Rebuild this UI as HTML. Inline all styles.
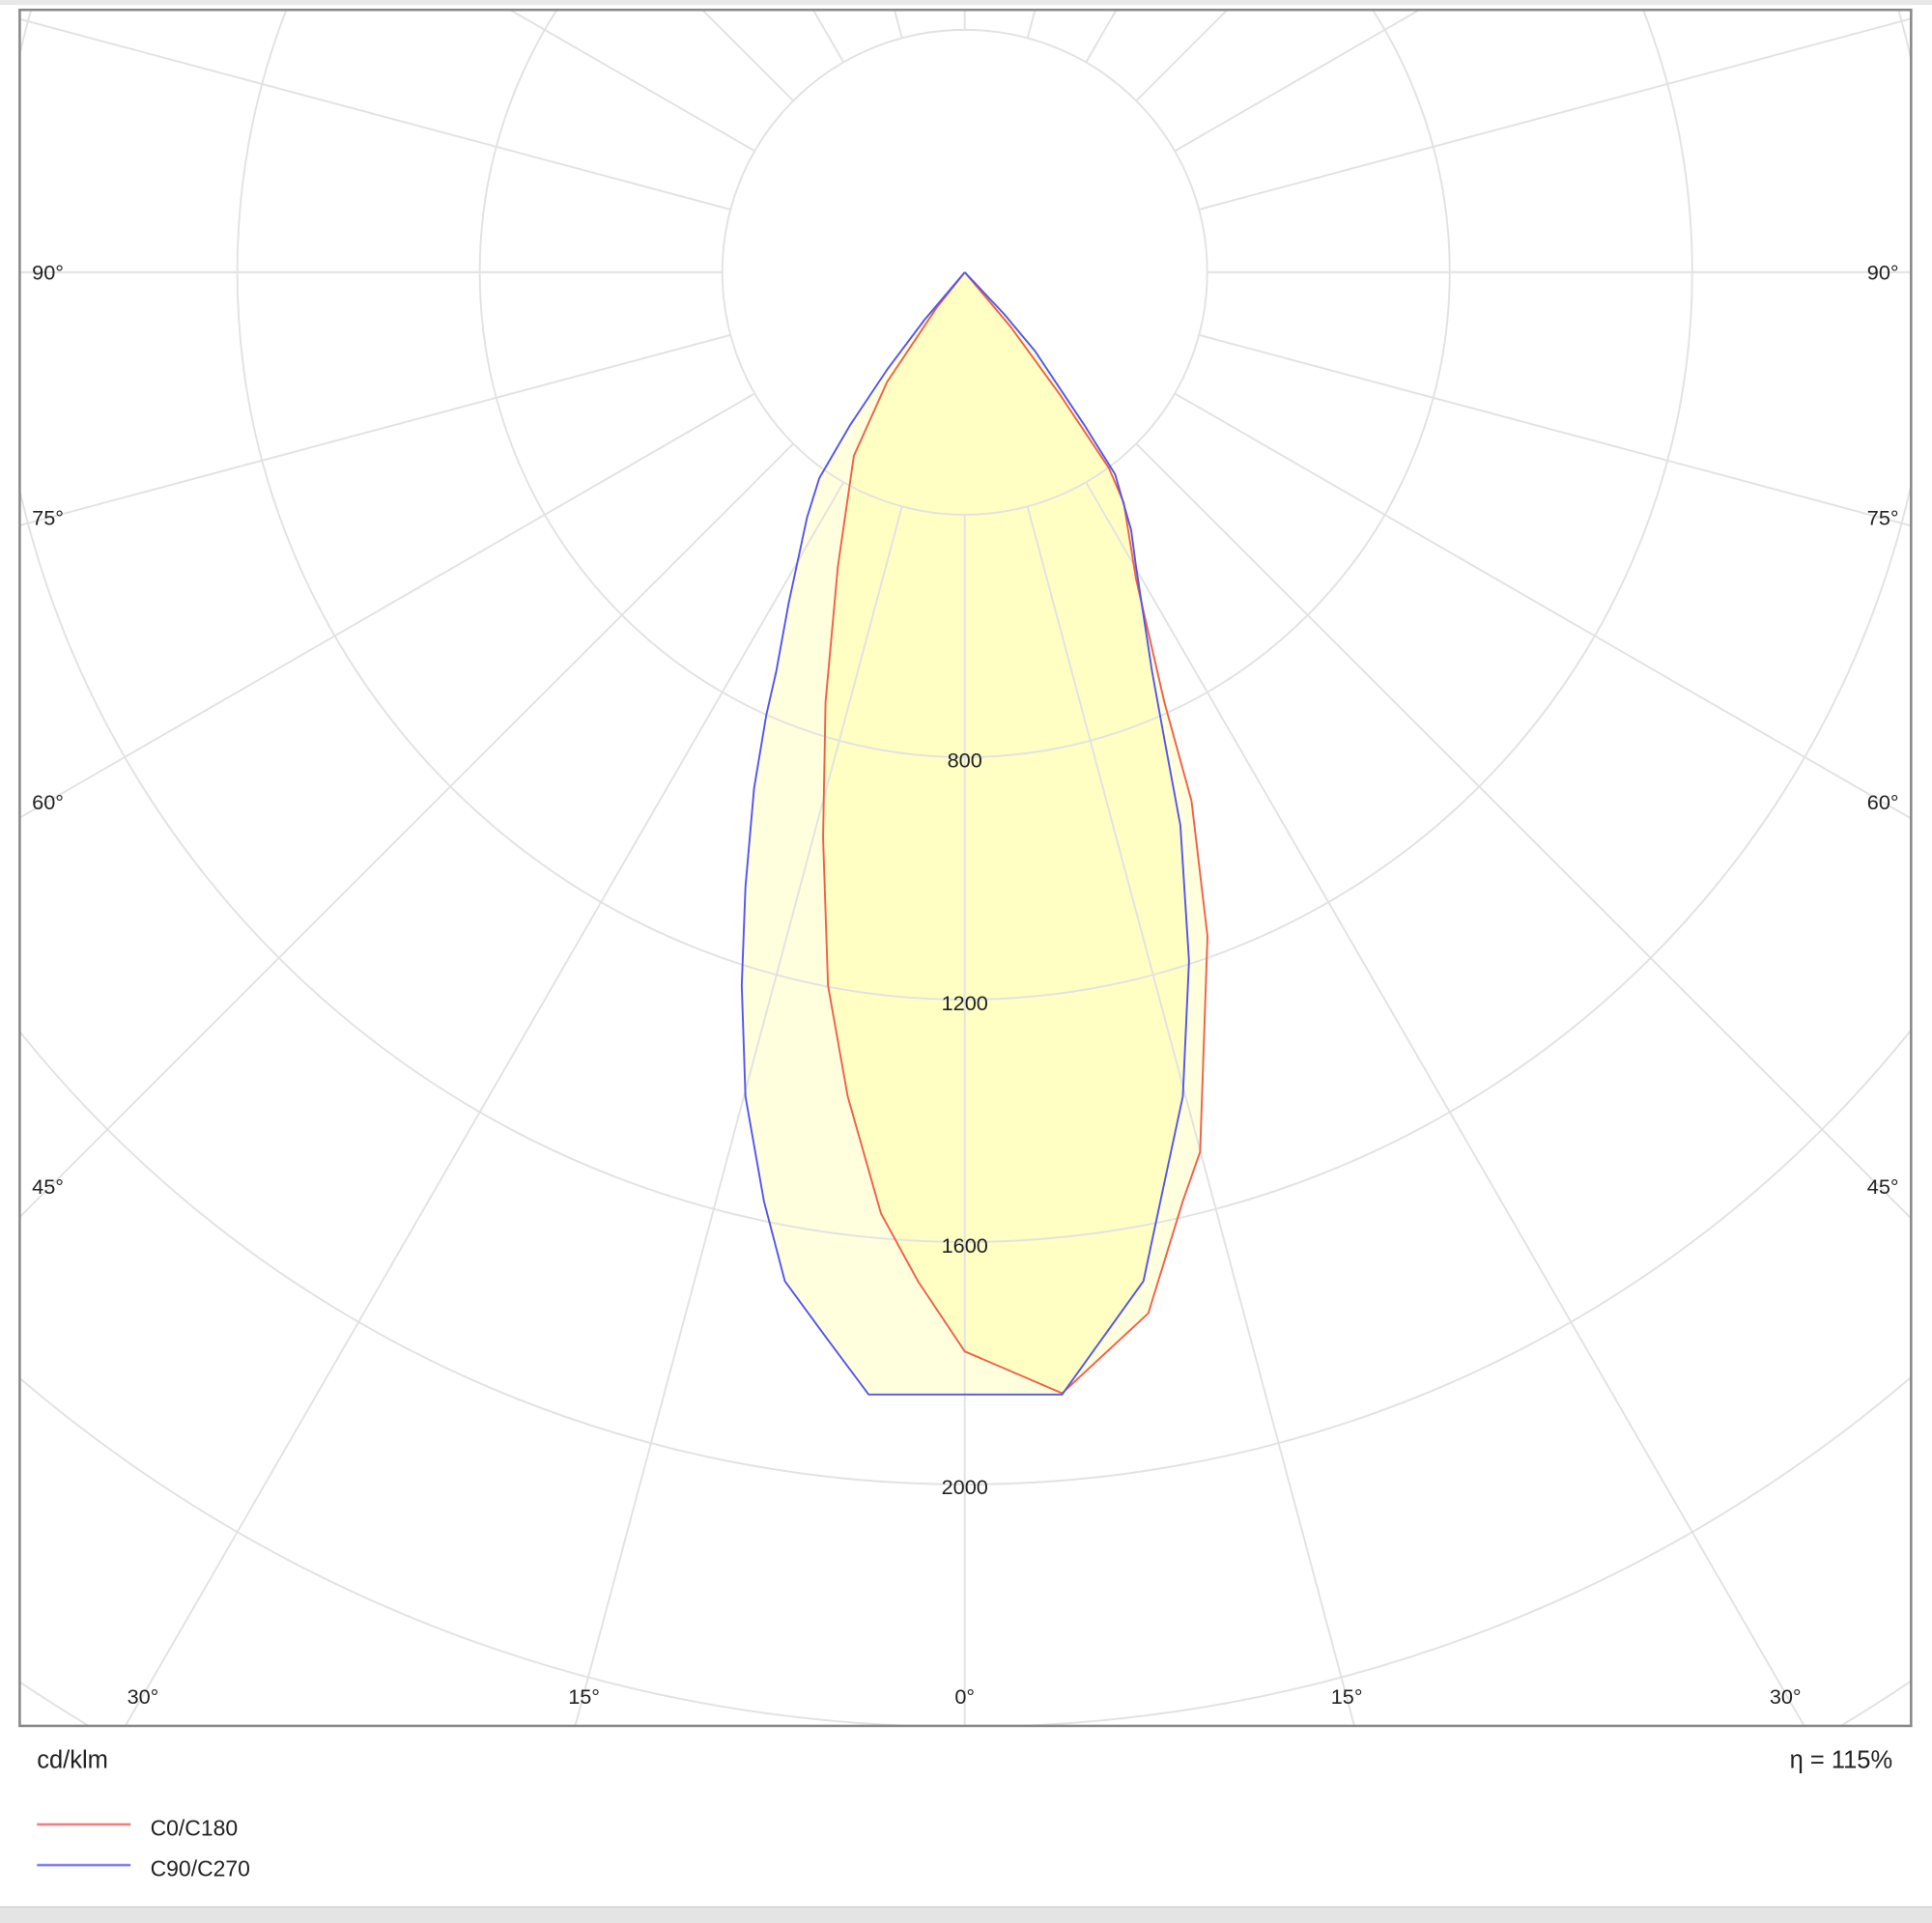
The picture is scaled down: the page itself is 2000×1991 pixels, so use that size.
<!DOCTYPE html>
<html><head><meta charset="utf-8"><style>
html,body{margin:0;padding:0;background:#fff;overflow:hidden;width:2000px;height:1991px;}
svg{display:block;}
text{font-family:"Liberation Sans","DejaVu Sans",sans-serif;fill:#222;}
</style></head><body>
<svg width="2000" height="1991" viewBox="0 0 1568 1561" preserveAspectRatio="none" xmlns="http://www.w3.org/2000/svg">
<rect x="0" y="0" width="1568" height="1561" fill="#fff"/>
<rect x="0" y="0" width="1568" height="4" fill="#e8e8e8"/>
<rect x="0" y="1548" width="1568" height="13" fill="#e4e4e4"/>
<line x1="0" y1="1548" x2="1568" y2="1548" stroke="#ccc"/>
<defs><clipPath id="c"><rect x="16" y="8" width="1535" height="1393"/></clipPath></defs>
<g clip-path="url(#c)">
<polygon fill="#ffff80" fill-opacity="0.27" points="783,221 760,250 720,310 693,370 680,460 670,570 668,680 672,800 688,890 715,985 745,1040 783,1097 862,1131 932,1066 960,975 974,935 980,760 967,650 945,570 922,470 912,408 900,380 860,320 820,265"/>
<polygon fill="#ffff80" fill-opacity="0.27" points="783,221 750,260 720,300 690,345 665,388 655,420 640,490 630,545 622,580 612,640 605,720 602,800 605,890 620,975 637,1040 670,1085 705,1132 862,1132 928,1040 945,960 960,890 965,780 958,670 945,600 935,545 922,460 918,430 905,385 880,345 840,285 815,255"/>
<g fill="none" stroke="#e2e2e2" stroke-width="1.5">
<circle cx="783" cy="221" r="196.8"/><circle cx="783" cy="221" r="393.6"/><circle cx="783" cy="221" r="590.4"/><circle cx="783" cy="221" r="787.2"/><circle cx="783" cy="221" r="984"/><circle cx="783" cy="221" r="1180.8"/><circle cx="783" cy="221" r="1377.6"/><circle cx="783" cy="221" r="1574.4"/>
</g>
<g stroke="#e2e2e2" stroke-width="1.5" transform="translate(783,221)">
<line x1="0" y1="196.8" x2="0" y2="2200" transform="rotate(0)"/>
<line x1="0" y1="196.8" x2="0" y2="2200" transform="rotate(15)"/>
<line x1="0" y1="196.8" x2="0" y2="2200" transform="rotate(30)"/>
<line x1="0" y1="196.8" x2="0" y2="2200" transform="rotate(45)"/>
<line x1="0" y1="196.8" x2="0" y2="2200" transform="rotate(60)"/>
<line x1="0" y1="196.8" x2="0" y2="2200" transform="rotate(75)"/>
<line x1="0" y1="196.8" x2="0" y2="2200" transform="rotate(90)"/>
<line x1="0" y1="196.8" x2="0" y2="2200" transform="rotate(105)"/>
<line x1="0" y1="196.8" x2="0" y2="2200" transform="rotate(120)"/>
<line x1="0" y1="196.8" x2="0" y2="2200" transform="rotate(135)"/>
<line x1="0" y1="196.8" x2="0" y2="2200" transform="rotate(150)"/>
<line x1="0" y1="196.8" x2="0" y2="2200" transform="rotate(165)"/>
<line x1="0" y1="196.8" x2="0" y2="2200" transform="rotate(180)"/>
<line x1="0" y1="196.8" x2="0" y2="2200" transform="rotate(195)"/>
<line x1="0" y1="196.8" x2="0" y2="2200" transform="rotate(210)"/>
<line x1="0" y1="196.8" x2="0" y2="2200" transform="rotate(225)"/>
<line x1="0" y1="196.8" x2="0" y2="2200" transform="rotate(240)"/>
<line x1="0" y1="196.8" x2="0" y2="2200" transform="rotate(255)"/>
<line x1="0" y1="196.8" x2="0" y2="2200" transform="rotate(270)"/>
<line x1="0" y1="196.8" x2="0" y2="2200" transform="rotate(285)"/>
<line x1="0" y1="196.8" x2="0" y2="2200" transform="rotate(300)"/>
<line x1="0" y1="196.8" x2="0" y2="2200" transform="rotate(315)"/>
<line x1="0" y1="196.8" x2="0" y2="2200" transform="rotate(330)"/>
<line x1="0" y1="196.8" x2="0" y2="2200" transform="rotate(345)"/>
</g>
</g>
<rect x="16" y="8" width="1535" height="1393" fill="none" stroke="#888" stroke-width="2"/>
<g font-size="17" text-anchor="middle">
<text x="783" y="623">800</text><text x="783" y="820">1200</text><text x="783" y="1017">1600</text><text x="783" y="1213">2000</text>
<text x="783" y="1383">0°</text><text x="474" y="1383">15°</text><text x="116" y="1383">30°</text><text x="1093" y="1383">15°</text><text x="1449" y="1383">30°</text>
</g>
<g font-size="17">
<text x="26" y="227">90°</text><text x="26" y="426">75°</text><text x="26" y="657">60°</text><text x="26" y="969">45°</text>
<text x="1541" y="227" text-anchor="end">90°</text><text x="1541" y="426" text-anchor="end">75°</text><text x="1541" y="657" text-anchor="end">60°</text><text x="1541" y="969" text-anchor="end">45°</text>
</g>
<polyline fill="none" stroke="#f0604a" stroke-width="1.5" points="783,221 760,250 720,310 693,370 680,460 670,570 668,680 672,800 688,890 715,985 745,1040 783,1097 862,1131 932,1066 960,975 974,935 980,760 967,650 945,570 922,470 912,408 900,380 860,320 820,265 783,221"/>
<polyline fill="none" stroke="#5555ee" stroke-width="1.5" points="783,221 750,260 720,300 690,345 665,388 655,420 640,490 630,545 622,580 612,640 605,720 602,800 605,890 620,975 637,1040 670,1085 705,1132 862,1132 928,1040 945,960 960,890 965,780 958,670 945,600 935,545 922,460 918,430 905,385 880,345 840,285 815,255 783,221"/>
<text x="30" y="1435" font-size="20">cd/klm</text>
<text x="1536" y="1435" font-size="20" text-anchor="end">η = 115%</text>
<line x1="30" y1="1481" x2="106" y2="1481" stroke="#f08080" stroke-width="2"/>
<line x1="30" y1="1514" x2="106" y2="1514" stroke="#8080f0" stroke-width="2"/>
<text x="122" y="1490" font-size="18">C0/C180</text>
<text x="122" y="1523" font-size="18">C90/C270</text>
</svg>
</body></html>
